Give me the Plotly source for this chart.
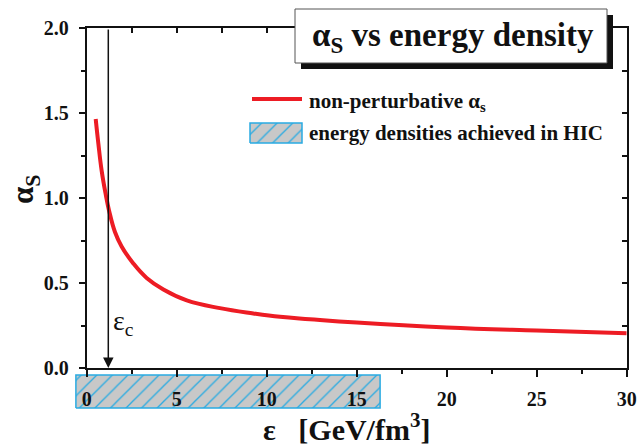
import plotly.graph_objects as go

# ---- data ----
energy_density = [0.5, 0.65, 0.83, 1.05, 1.24, 1.57, 1.94, 2.59, 3.33, 4.26, 5.56,
                  7.4, 9.26, 10.74, 12.4, 15.0, 20.0, 25.0, 30.0]
alpha_s = [1.465, 1.318, 1.161, 1.025, 0.927, 0.80, 0.715, 0.615, 0.53, 0.462, 0.398,
           0.352, 0.321, 0.301, 0.287, 0.267, 0.238, 0.220, 0.205]
eps_c = 1.2
hic_range = [-0.6, 16.3]
x_ticks = [0, 5, 10, 15, 20, 25, 30]
y_ticks = [0.0, 0.5, 1.0, 1.5, 2.0]
y_ticklabels = ["0.0", "0.5", "1.0", "1.5", "2.0"]

W, H = 639, 447
FONT = "Liberation Serif, Times New Roman, serif"
RED = "#ed1c24"
CYAN = "#29abe2"
GRAY = "#c8c8c8"
INK = "#111111"


def px(x):
    return x / W


def py(y):
    return 1 - y / H


# main plot area in pixels
L, R, T, B = 86.7, 626.7, 28, 368
xdom = [px(L), px(R)]
ydom = [py(B), py(T)]
x_range = [0, 30]
ppu = (R - L) / (x_range[1] - x_range[0])

fig = go.Figure()

# hatched HIC box below the axis (own subplot, drawn first so labels sit on top)
box_left_px = L - 1 * ppu
fig.add_trace(go.Scatter(
    x=[hic_range[0], hic_range[1], hic_range[1], hic_range[0], hic_range[0]],
    y=[0.05, 0.05, 0.92, 0.92, 0.05],
    xaxis="x", yaxis="y", mode="lines", fill="toself",
    line=dict(color=CYAN, width=1.5),
    fillcolor=GRAY,
    fillpattern=dict(shape="/", bgcolor=GRAY, fgcolor=CYAN, size=11, solidity=0.12),
    hoverinfo="skip", showlegend=False,
))

# main curve
fig.add_trace(go.Scatter(
    x=energy_density, y=alpha_s, xaxis="x2", yaxis="y2", mode="lines",
    line=dict(color=RED, width=4, shape="spline", smoothing=1.2),
    showlegend=False,
))

# dummy trace to instantiate the mirrored top/right axes
fig.add_trace(go.Scatter(x=[None], y=[None], xaxis="x3", yaxis="y3",
                         mode="lines", showlegend=False, hoverinfo="skip"))

# legend swatch for hatched box
fig.add_trace(go.Scatter(
    x=[2, 54, 54, 2, 2], y=[2, 2, 22, 22, 2], xaxis="x4", yaxis="y4",
    mode="lines", fill="toself", line=dict(color=CYAN, width=1.5),
    fillcolor=GRAY,
    fillpattern=dict(shape="/", bgcolor=GRAY, fgcolor=CYAN, size=11, solidity=0.12),
    hoverinfo="skip", showlegend=False,
))

tickfont = dict(family=FONT, size=20, color=INK, weight="bold")
hidden = dict(visible=False, showgrid=False, zeroline=False, fixedrange=True, automargin=False)
common = dict(showgrid=False, zeroline=False, fixedrange=True, automargin=False,
              showline=True, linecolor=INK, linewidth=2, tickwidth=1.5, tickcolor=INK)

fig.update_layout(
    template="none",
    width=W, height=H, margin=dict(l=0, r=0, t=0, b=0, pad=0), autosize=False,
    paper_bgcolor="white", plot_bgcolor="rgba(0,0,0,0)",
    showlegend=False,
    xaxis=dict(domain=[px(box_left_px), px(R)], range=[-1, 30], anchor="y", **hidden),
    yaxis=dict(domain=[py(410), py(372)], range=[0, 1], anchor="x", **hidden),
    xaxis2=dict(domain=xdom, range=x_range, anchor="y2",
                ticks="outside", ticklen=7,
                tickvals=x_ticks, ticktext=[str(v) for v in x_ticks],
                minor=dict(ticks="outside", ticklen=4, tickwidth=1.5, tickcolor=INK, dtick=2.5),
                tickfont=tickfont, ticklabelstandoff=5, **common),
    yaxis2=dict(domain=ydom, range=[0, 2], anchor="x2",
                ticks="outside", ticklen=6,
                tickvals=y_ticks, ticktext=y_ticklabels,
                minor=dict(ticks="outside", ticklen=4, tickwidth=1.5, tickcolor=INK, dtick=0.25),
                tickfont=tickfont, ticklabelstandoff=6, **common),
    xaxis3=dict(overlaying="x2", anchor="y2", side="top", range=x_range,
                ticks="inside", ticklen=5, dtick=2.5, tick0=0, showticklabels=False, **common),
    yaxis3=dict(overlaying="y2", anchor="x2", side="right", range=[0, 2],
                ticks="inside", ticklen=5, dtick=0.25, tick0=0, showticklabels=False, **common),
    xaxis4=dict(domain=[px(248), px(304)], range=[0, 56], anchor="y4", **hidden),
    yaxis4=dict(domain=[py(145), py(121)], range=[0, 24], anchor="x4", **hidden),
)

# title box with shadow
fig.add_shape(type="rect", xref="paper", yref="paper",
              x0=px(301), x1=px(613), y0=py(69), y1=py(15),
              fillcolor=INK, line=dict(width=0), layer="above")
fig.add_shape(type="rect", xref="paper", yref="paper",
              x0=px(295), x1=px(607), y0=py(63), y1=py(9),
              fillcolor="white", line=dict(color="#555555", width=1), layer="above")
fig.add_annotation(xref="paper", yref="paper", x=px(453), y=py(38),
                   text="α<sub>S</sub> vs energy density", showarrow=False,
                   xanchor="center", yanchor="middle",
                   font=dict(family=FONT, size=33, color=INK, weight="bold"))

# legend: red line + text
fig.add_shape(type="line", xref="paper", yref="paper",
              x0=px(252), x1=px(302), y0=py(99), y1=py(99),
              line=dict(color=RED, width=4), layer="above")
fig.add_annotation(xref="paper", yref="paper", x=px(307), y=py(102),
                   text="non-perturbative α<sub>s</sub>", showarrow=False,
                   xanchor="left", yanchor="middle",
                   font=dict(family=FONT, size=21, color=INK, weight="bold"))
fig.add_annotation(xref="paper", yref="paper", x=px(307), y=py(133),
                   text="energy densities achieved in HIC", showarrow=False,
                   xanchor="left", yanchor="middle",
                   font=dict(family=FONT, size=21, color=INK, weight="bold"))

# epsilon_c arrow
fig.add_annotation(xref="x2", yref="y2", axref="x2", ayref="y2",
                   x=eps_c, y=0, ax=eps_c, ay=2.0, text="", showarrow=True,
                   arrowhead=2, arrowsize=1.4, arrowwidth=1.5, arrowcolor=INK,
                   standoff=0)
fig.add_annotation(xref="paper", yref="paper", x=px(111), y=py(322),
                   text="ε<sub>c</sub>", showarrow=False, xanchor="left", yanchor="middle",
                   font=dict(family=FONT, size=28, color=INK))

# axis titles
fig.add_annotation(xref="paper", yref="paper", x=px(25), y=py(190),
                   text="α<sub>S</sub>", showarrow=False, textangle=-90,
                   xanchor="center", yanchor="middle",
                   font=dict(family=FONT, size=31, color=INK, weight="bold"))
fig.add_annotation(xref="paper", yref="paper", x=px(346), y=py(427),
                   text="ε   [GeV/fm<sup>3</sup>]", showarrow=False,
                   xanchor="center", yanchor="middle",
                   font=dict(family=FONT, size=30, color=INK, weight="bold"))

fig.write_html("out.html")
